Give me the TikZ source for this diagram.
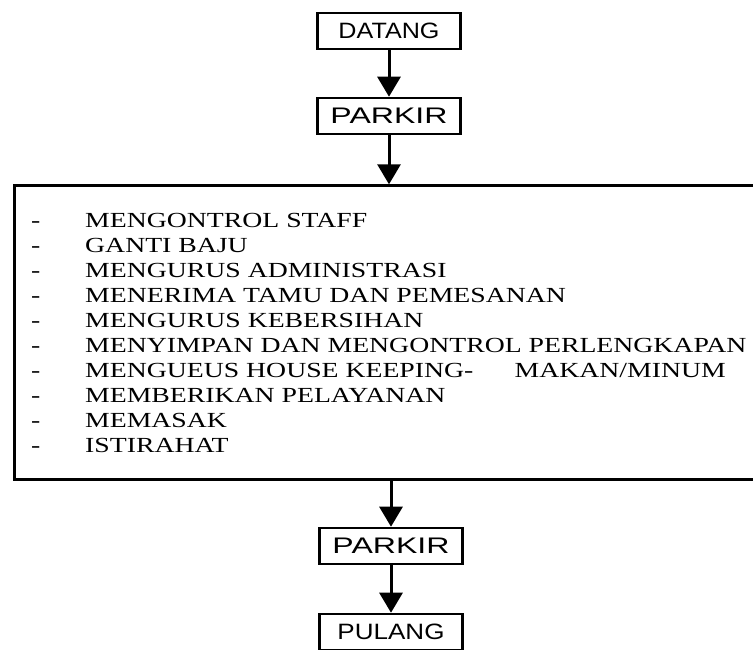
\documentclass[tikz,border=0pt]{standalone}
\usepackage{fontspec}
\setmainfont{Liberation Serif}
\newfontfamily\labelfont{Liberation Sans}
\usetikzlibrary{arrows.meta}
\tikzset{
  stepbox/.style={draw, line width=2.6pt, minimum width=143pt, minimum height=36pt, inner sep=0pt},
  flow/.style={line width=3pt, -{Triangle[width=23pt,length=20pt]}},
  item/.style={anchor=base west, inner sep=0pt, font=\fontsize{21.5}{25}\selectfont},
}
\newcommand{\boxtext}[2]{\resizebox{#1}{15.5pt}{\labelfont #2}}
\newcommand{\wide}[1]{\scalebox{1.29}[1]{#1}}
\begin{document}
\begin{tikzpicture}[x=1pt,y=-1pt]
  \useasboundingbox (0,0) rectangle (753,650);
  \node[stepbox] (datang) at (389,31) {\boxtext{101pt}{DATANG}};
  \node[stepbox] (parkir) at (389,116) {\boxtext{117pt}{PARKIR}};
  \node[draw, line width=2.6pt, anchor=north west, minimum width=750pt,
        minimum height=294pt, inner sep=0pt] (kegiatan) at (13.3,184.3) {};
  \node[stepbox] (parkirdua) at (391,546) {\boxtext{117pt}{PARKIR}};
  \node[stepbox] (pulang) at (391,632) {\boxtext{107pt}{PULANG}};
  % daftar kegiatan
  \foreach \txt [count=\i from 0] in {MENGONTROL STAFF, GANTI BAJU,
      MENGURUS ADMINISTRASI, MENERIMA TAMU DAN PEMESANAN,
      MENGURUS KEBERSIHAN, MENYIMPAN DAN MENGONTROL PERLENGKAPAN,
      {MENGUEUS HOUSE KEEPING-\hspace{32pt}MAKAN/MINUM},
      MEMBERIKAN PELAYANAN, MEMASAK, ISTIRAHAT} {
    \node[item] (dash\i) at (31,227+25*\i) {\wide{-}};
    \node[item] (item\i) at (85,227+25*\i) {\wide{\txt}};
  }
  \draw [flow] (datang.south) -- (parkir.north);
  \draw [flow] (parkir.south) -- (parkir.south |- kegiatan.north);
  \draw [flow] (parkirdua.north |- kegiatan.south) -- (parkirdua.north);
  \draw [flow] (parkirdua.south) -- (pulang.north);
\end{tikzpicture}
\end{document}
